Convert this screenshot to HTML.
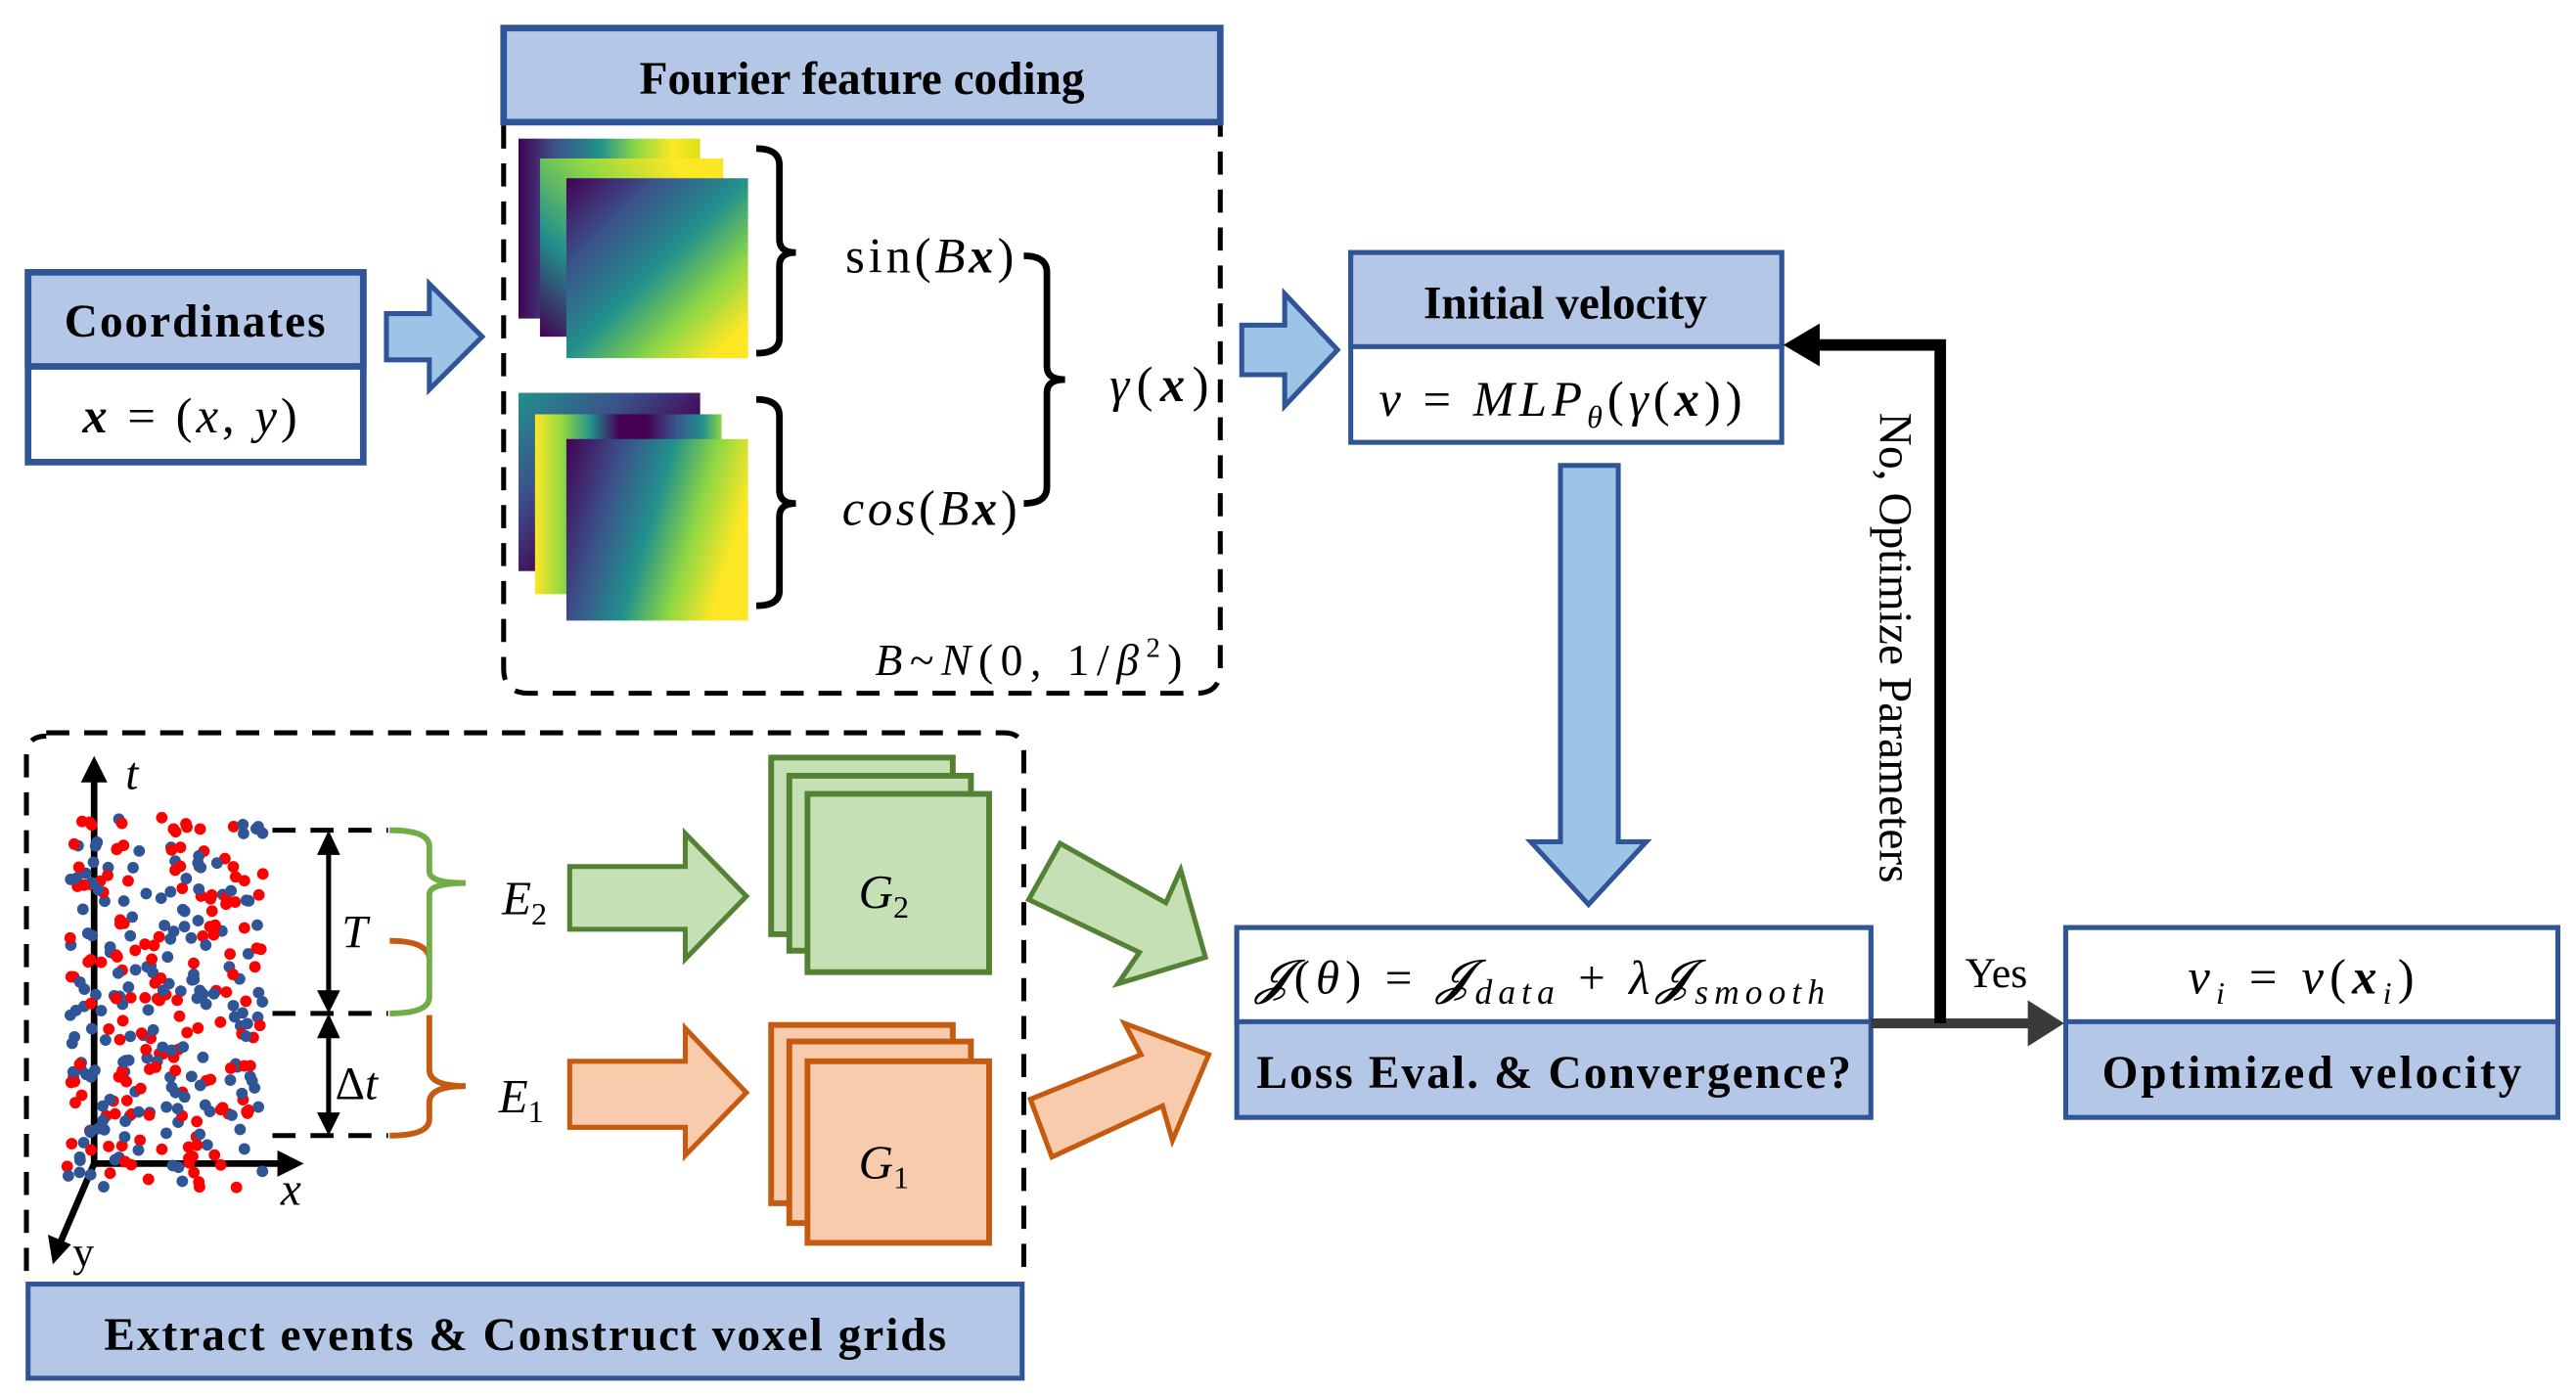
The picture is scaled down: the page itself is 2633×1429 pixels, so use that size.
<!DOCTYPE html>
<html><head><meta charset="utf-8">
<style>
html,body{margin:0;padding:0;background:#fff;}
svg{display:block;}
text{font-family:"Liberation Serif",serif;fill:#000;}
.b{font-weight:bold;font-size:28px;}
</style></head>
<body>
<svg width="2633" height="1429" viewBox="0 0 1560 847" preserveAspectRatio="none" xmlns="http://www.w3.org/2000/svg">
<defs>
<linearGradient id="g1" x1="0" y1="0" x2="1" y2="0">
<stop offset="0" stop-color="#440154"/><stop offset="0.2" stop-color="#3b528b"/><stop offset="0.45" stop-color="#21918c"/><stop offset="0.65" stop-color="#8fd744"/><stop offset="0.85" stop-color="#fde725"/><stop offset="1" stop-color="#d8e219"/>
</linearGradient>
<linearGradient id="g2" x1="0" y1="1" x2="1" y2="0">
<stop offset="0" stop-color="#440154"/><stop offset="0.3" stop-color="#21918c"/><stop offset="0.6" stop-color="#8fd744"/><stop offset="0.85" stop-color="#fde725"/><stop offset="1" stop-color="#fde725"/>
</linearGradient>
<linearGradient id="g3" x1="0" y1="0" x2="1" y2="1">
<stop offset="0" stop-color="#440154"/><stop offset="0.25" stop-color="#3b528b"/><stop offset="0.5" stop-color="#21918c"/><stop offset="0.72" stop-color="#8fd744"/><stop offset="0.9" stop-color="#fde725"/><stop offset="1" stop-color="#fde725"/>
</linearGradient>
<linearGradient id="c1" x1="0" y1="0" x2="1" y2="1">
<stop offset="0" stop-color="#21918c"/><stop offset="0.3" stop-color="#3b528b"/><stop offset="0.6" stop-color="#440154"/><stop offset="1" stop-color="#440154"/>
</linearGradient>
<linearGradient id="c2" x1="0" y1="0" x2="1" y2="0">
<stop offset="0" stop-color="#fde725"/><stop offset="0.15" stop-color="#8fd744"/><stop offset="0.3" stop-color="#21918c"/><stop offset="0.45" stop-color="#440154"/><stop offset="0.6" stop-color="#440154"/><stop offset="0.75" stop-color="#3b528b"/><stop offset="0.9" stop-color="#21918c"/><stop offset="1" stop-color="#8fd744"/>
</linearGradient>
<linearGradient id="c3" x1="0" y1="0" x2="1" y2="0.3">
<stop offset="0" stop-color="#440154"/><stop offset="0.3" stop-color="#3b528b"/><stop offset="0.55" stop-color="#21918c"/><stop offset="0.78" stop-color="#8fd744"/><stop offset="1" stop-color="#fde725"/>
</linearGradient>
</defs>

<!-- Fourier feature coding -->
<rect x="305" y="17" width="434" height="57" fill="#b4c7e7" stroke="#2f5597" stroke-width="4"/>
<text class="b" x="522" y="57" text-anchor="middle">Fourier feature coding</text>
<path d="M305 76 V405 Q305 420 320 420 H725 Q739 420 739 405 V76" fill="none" stroke="#000" stroke-width="3" stroke-dasharray="14,9"/>

<rect x="314" y="84" width="110" height="109" fill="url(#g1)"/>
<rect x="327" y="96" width="111" height="108" fill="url(#g2)"/>
<rect x="343" y="108" width="110" height="109" fill="url(#g3)"/>
<rect x="314" y="238" width="110" height="108" fill="url(#c1)"/>
<rect x="324" y="251" width="113" height="109" fill="url(#c2)"/>
<rect x="343" y="266" width="110" height="110" fill="url(#c3)"/>

<path d="M458 90 Q472 90 472 100 V145 Q472 153 482 153 Q472 153 472 161 V205 Q472 214 458 214" fill="none" stroke="#000" stroke-width="4"/>
<path d="M458 242 Q472 242 472 252 V297 Q472 305 482 305 Q472 305 472 313 V358 Q472 367 458 367" fill="none" stroke="#000" stroke-width="4"/>
<path d="M620 155 Q634 155 634 165 V222 Q634 230 645 230 Q634 230 634 238 V295 Q634 305 620 305" fill="none" stroke="#000" stroke-width="4"/>
<text x="512" y="165" font-size="30" textLength="102">sin(<tspan font-style="italic">B</tspan><tspan font-style="italic" font-weight="bold">x</tspan>)</text>
<text x="510" y="318" font-size="30" textLength="106"><tspan font-style="italic">cos</tspan>(<tspan font-style="italic">B</tspan><tspan font-style="italic" font-weight="bold">x</tspan>)</text>
<text x="672" y="243" font-size="30" textLength="60"><tspan font-style="italic">γ</tspan>(<tspan font-style="italic" font-weight="bold">x</tspan>)</text>
<text x="530" y="409" font-size="27" font-style="italic" textLength="186">B<tspan font-style="normal">~</tspan>N<tspan font-style="normal">(0, 1/</tspan>β<tspan font-style="normal" font-size="17" dy="-11">2</tspan><tspan font-style="normal" dy="11">)</tspan></text>

<!-- Coordinates -->
<rect x="17" y="165" width="203" height="115" fill="#fff" stroke="#2f5597" stroke-width="4"/>
<rect x="17" y="165" width="203" height="57" fill="#b4c7e7" stroke="#2f5597" stroke-width="4"/>
<text class="b" x="118" y="204" text-anchor="middle" textLength="158">Coordinates</text>
<text x="50" y="262" font-size="30" textLength="130"><tspan font-style="italic" font-weight="bold">x</tspan> = (<tspan font-style="italic">x</tspan>, <tspan font-style="italic">y</tspan>)</text>

<polygon points="234,190 260,190 260,172 292,204 260,236 260,218 234,218" fill="#9dc3e6" stroke="#2f5597" stroke-width="3"/>
<polygon points="752,197 778,197 778,178 810,212 778,246 778,227 752,227" fill="#9dc3e6" stroke="#2f5597" stroke-width="3"/>

<!-- Initial velocity -->
<rect x="818" y="153" width="261" height="115" fill="#fff" stroke="#2f5597" stroke-width="3"/>
<rect x="818" y="153" width="261" height="57" fill="#b4c7e7" stroke="#2f5597" stroke-width="3"/>
<text class="b" x="948" y="193" text-anchor="middle">Initial velocity</text>
<text x="835" y="252" font-size="30" font-style="italic" textLength="220">ν <tspan font-style="normal">=</tspan> MLP<tspan font-size="19" dy="7">θ</tspan><tspan dy="-7" font-style="normal">(</tspan>γ<tspan font-style="normal">(</tspan><tspan font-weight="bold">x</tspan><tspan font-style="normal">))</tspan></text>

<polygon points="945,282 980,282 980,510 997,510 962,548 927,510 945,510" fill="#9dc3e6" stroke="#2f5597" stroke-width="3"/>

<!-- Loss box -->
<rect x="749" y="562" width="384" height="115" fill="#b4c7e7" stroke="#2f5597" stroke-width="3"/>
<rect x="749" y="562" width="384" height="57" fill="#fff" stroke="#2f5597" stroke-width="3"/>
<text x="760" y="602" font-size="29" font-style="italic" textLength="345">𝓙<tspan font-style="normal">(</tspan>θ<tspan font-style="normal">) = </tspan>𝓙<tspan font-size="21" dy="6">data</tspan><tspan dy="-6" font-style="normal">  +  </tspan>λ𝓙<tspan font-size="21" dy="6">smooth</tspan></text>
<text class="b" x="941" y="659" text-anchor="middle" textLength="360">Loss Eval. &amp; Convergence?</text>

<!-- Optimized box -->
<rect x="1251" y="562" width="298" height="115" fill="#b4c7e7" stroke="#2f5597" stroke-width="3"/>
<rect x="1251" y="562" width="298" height="57" fill="#fff" stroke="#2f5597" stroke-width="3"/>
<text x="1325" y="602" font-size="30" font-style="italic" textLength="137">ν<tspan font-size="19" dy="6">i</tspan><tspan dy="-6" font-style="normal"> = </tspan>ν<tspan font-style="normal">(</tspan><tspan font-weight="bold">x</tspan><tspan font-size="19" dy="6">i</tspan><tspan dy="-6" font-style="normal">)</tspan></text>
<text class="b" x="1400" y="659" text-anchor="middle" textLength="254">Optimized  velocity</text>

<!-- connectors -->
<line x1="1133" y1="620" x2="1230" y2="620" stroke="#3a3a3a" stroke-width="6"/>
<polygon points="1228,606 1250,620 1228,634" fill="#3a3a3a"/>
<polyline points="1175,620 1175,209 1100,209" fill="none" stroke="#000" stroke-width="7"/>
<polygon points="1102,196 1080,209 1102,222" fill="#000"/>
<text x="1145" y="250" font-size="28" transform="rotate(90 1145 250)" dominant-baseline="middle" textLength="285">No, Optimize Parameters</text>
<text x="1190" y="598" font-size="26">Yes</text>

<!-- bottom dashed box -->
<path d="M28 444 H608 Q620 444 620 456 V770 M16 770 V458 Q16 446 28 446" fill="none" stroke="#000" stroke-width="3" stroke-dasharray="14,9"/>
<rect x="17" y="778" width="602" height="57" fill="#b4c7e7" stroke="#2f5597" stroke-width="3"/>
<text class="b" x="318" y="818" text-anchor="middle" textLength="510">Extract events &amp; Construct voxel grids</text>

<!-- axes -->
<line x1="57" y1="470" x2="57" y2="705" stroke="#000" stroke-width="4"/>
<polygon points="49,474 57,458 65,474" fill="#000"/>
<line x1="57" y1="705" x2="170" y2="705" stroke="#000" stroke-width="4"/>
<polygon points="168,697 184,705 168,713" fill="#000"/>
<line x1="57" y1="705" x2="36" y2="754" stroke="#000" stroke-width="4"/>
<polygon points="29,748 32,766 43,754" fill="#000"/>
<text x="76" y="478" font-size="28" font-style="italic">t</text>
<text x="170" y="730" font-size="28" font-style="italic">x</text>
<text x="44" y="767" font-size="26">y</text>

<g id="dots"></g>

<g stroke="#000" stroke-width="3" stroke-dasharray="14,9">
<line x1="165" y1="503" x2="235" y2="503"/>
<line x1="165" y1="614" x2="235" y2="614"/>
<line x1="165" y1="688" x2="235" y2="688"/>
</g>
<line x1="199" y1="515" x2="199" y2="603" stroke="#000" stroke-width="3"/>
<polygon points="192,518 199,503 206,518" fill="#000"/><polygon points="192,600 199,614 206,600" fill="#000"/>
<line x1="199" y1="625" x2="199" y2="678" stroke="#000" stroke-width="3"/>
<polygon points="192,629 199,614 206,629" fill="#000"/><polygon points="192,674 199,688 206,674" fill="#000"/>
<text x="207" y="574" font-size="28" font-style="italic">T</text>
<text x="203" y="666" font-size="28"><tspan>Δ</tspan><tspan font-style="italic">t</tspan></text>
<path d="M236 570 Q258 570 260 580" fill="none" stroke="#c55a11" stroke-width="3.5"/>
<path d="M260 615 V648 Q260 658 282 658 Q260 658 260 668 V678 Q260 688 236 688" fill="none" stroke="#c55a11" stroke-width="3.5"/>
<path d="M236 503 Q260 503 260 513 V528 Q260 535 282 535 Q260 535 260 542 V604 Q260 614 236 614" fill="none" stroke="#70ad47" stroke-width="3.5"/>
<text x="304" y="554" font-size="29" font-style="italic">E<tspan font-size="19" font-style="normal" dy="6">2</tspan></text>
<text x="302" y="674" font-size="29" font-style="italic">E<tspan font-size="19" font-style="normal" dy="6">1</tspan></text>

<polygon points="345,525 415,525 415,505 452,543 415,581 415,563 345,563" fill="#c5e0b4" stroke="#548235" stroke-width="3"/>
<polygon points="345,643 415,643 415,623 452,662 415,700 415,683 345,683" fill="#f8cbad" stroke="#c55a11" stroke-width="3"/>
<g fill="#c5e0b4" stroke="#548235" stroke-width="3.5">
<rect x="467" y="459" width="110" height="107"/><rect x="478" y="470" width="110" height="106"/><rect x="489" y="481" width="110" height="108"/>
</g>
<text x="520" y="550" font-size="29" font-style="italic">G<tspan font-size="19" font-style="normal" dy="6">2</tspan></text>
<g fill="#f8cbad" stroke="#c55a11" stroke-width="3.5">
<rect x="467" y="621" width="110" height="108"/><rect x="478" y="631" width="110" height="110"/><rect x="489" y="643" width="110" height="110"/>
</g>
<text x="520" y="714" font-size="29" font-style="italic">G<tspan font-size="19" font-style="normal" dy="6">1</tspan></text>
<polygon points="642,511 706,547 715,527 730,580 677,596 690,577 623,545" fill="#c5e0b4" stroke="#548235" stroke-width="3"/>
<polygon points="624,666 691,639 681,620 732,639 710,691 704,670 637,701" fill="#f8cbad" stroke="#c55a11" stroke-width="3"/>
</svg>
<script>
(function(){
var g=document.getElementById('dots');var s=12345;
function r(){s=(s*1103515245+12345)%2147483648;return s/2147483648;}
var out='';
for(var i=0;i<330;i++){
 var y=495+r()*225; var x=42+r()*118;
 if(y>705){x=40+r()*120;}
 var c=r()<0.5?'#ff0000':'#2f5597';
 out+='<circle cx="'+x.toFixed(1)+'" cy="'+y.toFixed(1)+'" r="3.5" fill="'+c+'"/>';
}
g.innerHTML=out;
})();
</script>
</body></html>
